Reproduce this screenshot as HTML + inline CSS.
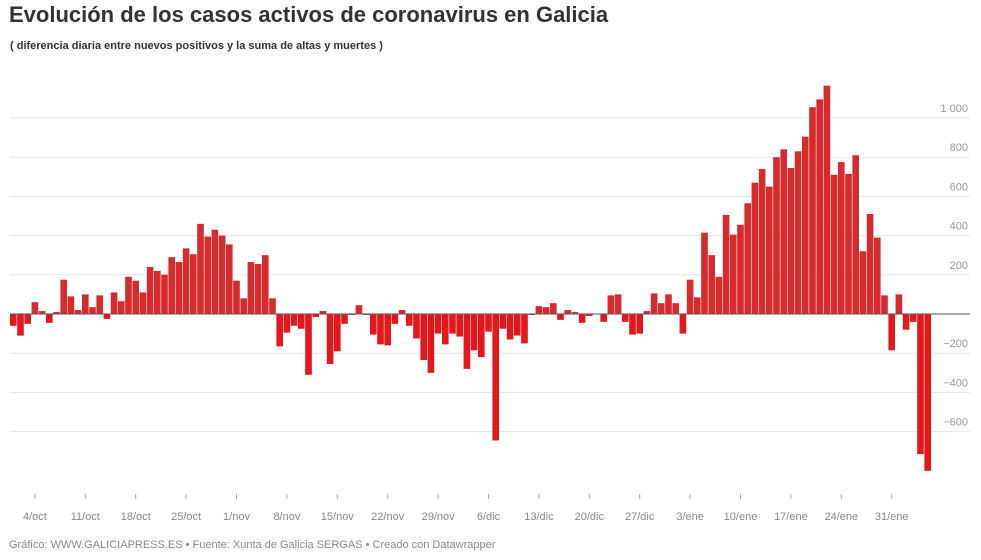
<!DOCTYPE html>
<html><head><meta charset="utf-8"><style>
body{margin:0;background:#fff;font-family:"Liberation Sans",sans-serif;}
svg{display:block}
</style></head><body>
<svg id="chart" width="981" height="560">
<text x="9" y="22" font-size="22" font-weight="bold" fill="#333">Evolución de los casos activos de coronavirus en Galicia</text>
<text x="10" y="49" font-size="11" font-weight="bold" fill="#333">( diferencia diaria entre nuevos positivos y la suma de altas y muertes )</text>
<g id="grid"></g><g id="bars"></g><g id="xaxis"></g>
<text x="9" y="548" font-size="11" fill="#8a8a8a">Gráfico: WWW.GALICIAPRESS.ES • Fuente: Xunta de Galicia SERGAS • Creado con Datawrapper</text>
</svg>
<script>
const values = [-60,-110,-50,60,15,-45,10,175,90,20,100,35,95,-25,110,65,190,170,110,240,220,200,290,265,335,305,460,395,430,400,355,170,80,265,255,300,80,-165,-95,-60,-75,-310,
-15,15,-255,-190,-50,-5,45,-5,-105,-155,-160,-50,20,-60,-125,-235,-300,-100,-155,-100,-115,-280,-185,-220,-90,-645,-75,-130,-110,-150,
-5,40,35,55,-30,20,10,-45,-10,0,-40,95,100,-40,-105,-100,15,105,55,100,55,-100,175,85,415,300,190,505,405,455,565,670,740,650,800,840,745,830,905,1055,1095,1165,710,775,715,810,320,510,390,95,-185,100,-80,-40,-715,-800];
const yTicks = [1000,800,600,400,200,0,-200,-400,-600];
const yTickLabels = ["1 000","800","600","400","200","","−200","−400","−600"];
const xLabels = ["4/oct","11/oct","18/oct","25/oct","1/nov","8/nov","15/nov","22/nov","29/nov","6/dic","13/dic","20/dic","27/dic","3/ene","10/ene","17/ene","24/ene","31/ene"];
const xLabelIdx = [3,10,17,24,31,38,45,52,59,66,73,80,87,94,101,108,115,122];

const NS="http://www.w3.org/2000/svg";
const x0=10, step=7.2;
function xs(i){return x0+step*i;}
function ys(v){return 314 - v*0.196;}
function mk(tag,attrs,parent){const e=document.createElementNS(NS,tag);for(const k in attrs)e.setAttribute(k,attrs[k]);parent.appendChild(e);return e;}
const grid=document.getElementById('grid'), bars=document.getElementById('bars'), xa=document.getElementById('xaxis');
yTicks.forEach((t,k)=>{
  if(t!==0){
    const l=mk('line',{x1:10,x2:970,y1:ys(t),y2:ys(t),stroke:'#e6e6e6','stroke-width':1},grid);
    
    
  }
  if(yTickLabels[k]){
    const tx=mk('text',{x:968,y:ys(t)-6,'font-size':11,fill:'#999','text-anchor':'end'},grid);
    tx.textContent=yTickLabels[k];
    
    
  }
});
values.forEach((v,i)=>{
  const y=Math.min(ys(v),ys(0)), h=Math.abs(ys(v)-ys(0));
  const r=mk('rect',{x:xs(i),y:y,width:step-0.6,height:h,fill:v>=0?'#d62a2c':'#e3171c'},bars);
  
  
});
const z=mk('line',{x1:10,x2:970,y1:ys(0),y2:ys(0),stroke:'#555','stroke-width':1},bars);


xLabels.forEach((lab,k)=>{
  const cx=xs(xLabelIdx[k])+step/2-0.3;
  const tk=mk('line',{x1:cx,x2:cx,y1:494,y2:499,stroke:'#aaa','stroke-width':1},xa);
  
  
  const t=mk('text',{x:cx,y:520,'font-size':11,fill:'#888','text-anchor':'middle'},xa);
  t.textContent=lab;
  
  
});
</script>
</body></html>
